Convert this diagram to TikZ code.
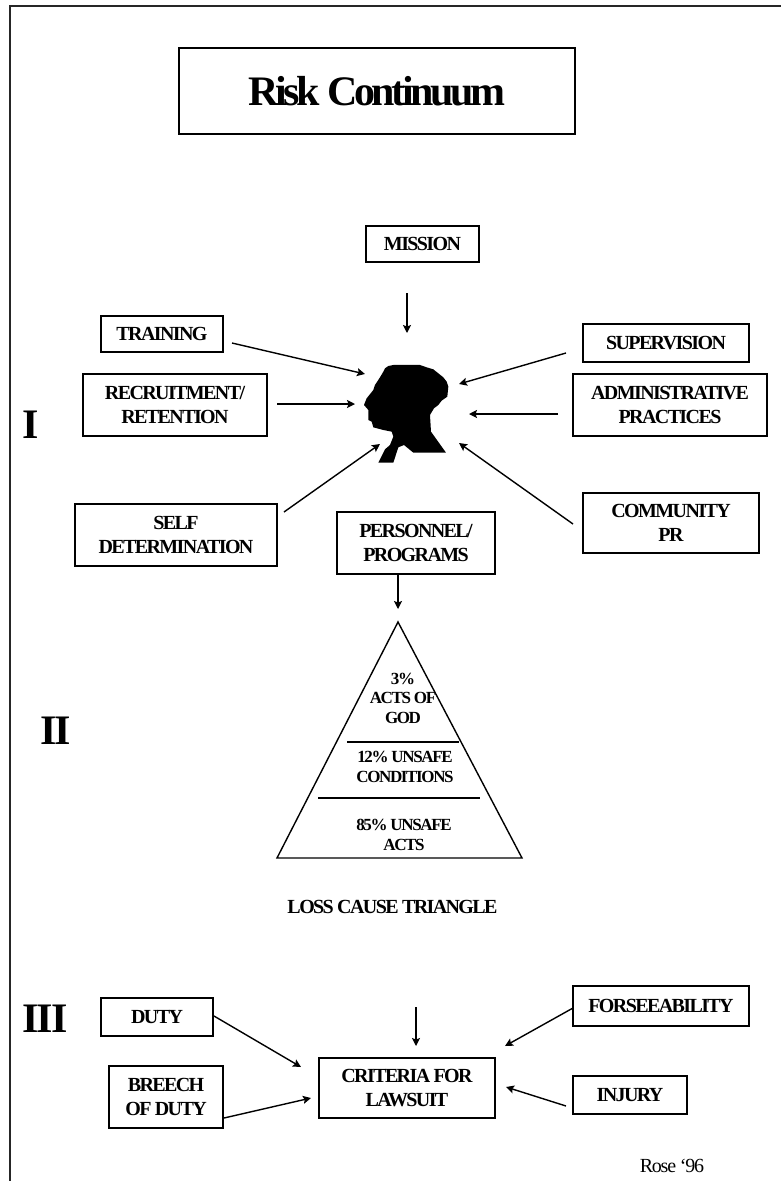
\documentclass[tikz,border=0pt]{standalone}
\usepackage{fontspec}
\setmainfont{Liberation Serif}[LetterSpace=-8]
\newfontfamily\rosefont{Liberation Serif}[LetterSpace=-6]
\newfontfamily\romanfont{Liberation Serif}[LetterSpace=-5]
\usetikzlibrary{arrows.meta}
\tikzset{
  bx/.style={draw,line width=1.6pt,align=center,inner sep=0pt,font=\fontsize{20}{24.5}\selectfont\bfseries},
  lab/.style={align=center,inner sep=0pt,font=\fontsize{17}{19.5}\selectfont\bfseries},
  roman/.style={inner sep=0pt,font=\fontsize{42}{42}\selectfont\romanfont\bfseries},
  arr/.style={line width=1.4pt,-{Stealth[length=8pt,width=8pt,inset=1.5pt]}},
  rule line/.style={line width=1.4pt}
}
\newcommand{\rbox}[6]{\node[bx,minimum width=#4pt-#3pt,minimum height=#6pt-#5pt] (#1) at ({(#3+#4)/2},{(#5+#6)/2}) {#2};}
\begin{document}
\begin{tikzpicture}[x=1pt,y=-1pt]
\useasboundingbox (0,0) rectangle (781,1181);
\draw[line width=1.6pt,black!85] (10,1181) -- (10,6) -- (781,6);
\node[draw,line width=1.6pt,minimum width=396pt,minimum height=86pt,inner sep=0pt,font=\fontsize{42}{45}\selectfont\bfseries] (title) at (377,91) {Risk Continuum};
\rbox{mission}{MISSION}{366}{479}{226}{262}
\rbox{training}{TRAINING}{101}{223}{316}{352}
\rbox{recruit}{RECRUITMENT/\\RETENTION}{83}{267}{374}{436}
\rbox{self}{SELF\\DETERMINATION}{75}{277}{504}{566}
\rbox{personnel}{PERSONNEL/\\PROGRAMS}{337}{495}{512}{574}
\rbox{super}{SUPERVISION}{583}{749}{324}{362}
\rbox{admin}{ADMINISTRATIVE\\PRACTICES}{573}{767}{374}{436}
\rbox{community}{COMMUNITY\\PR}{583}{759}{493}{553}
\rbox{duty}{DUTY}{101}{213}{998}{1036}
\rbox{breech}{BREECH\\OF DUTY}{109}{223}{1066}{1128}
\rbox{criteria}{CRITERIA FOR\\LAWSUIT}{319}{495}{1058}{1118}
\rbox{injury}{INJURY}{573}{687}{1076}{1114}
\rbox{forsee}{FORSEEABILITY}{573}{749}{986}{1026}
% head silhouette
\fill[shift={(330,290)},x=0.3333pt,y=-0.3333pt] (165,235)--(175,228)--(190,225)--(270,225)--(290,232)--(310,238)--(325,250)--(340,262)--(350,275)--(355,290)--(352,320)--(335,332)--(325,345)--(312,355)--(300,375)--(303,425)--(348,488)--(250,488)--(222,465)--(205,472)--(190,518)--(145,518)--(165,478)--(180,465)--(190,440)--(185,425)--(160,420)--(130,412)--(125,395)--(115,390)--(115,360)--(102,345)--(110,325)--(130,300)--(135,285)--(150,262)--(160,245)--cycle;
% connector ends
\coordinate (tm) at (407,293); \coordinate (hm) at (407,333);
\coordinate (ttr) at (232,343); \coordinate (htr) at (365,374);
\coordinate (tre) at (277,404); \coordinate (hre) at (355,404);
\coordinate (tse) at (284,512); \coordinate (hse) at (380,444);
\coordinate (tsu) at (566,353); \coordinate (hsu) at (459,384);
\coordinate (tad) at (558,414); \coordinate (had) at (469,414);
\coordinate (tco) at (573,524); \coordinate (hco) at (459,443);
\coordinate (hpe) at (398,609);
\coordinate (apex) at (398,622);
\coordinate (bl) at (277,858);
\coordinate (br) at (522,858);
\coordinate (tcr) at (416,1007); \coordinate (hcr) at (416,1046);
\coordinate (tdu) at (214,1016); \coordinate (hdu) at (301,1067);
\coordinate (tbr) at (224,1118); \coordinate (hbr) at (311,1098);
\coordinate (tfo) at (573,1008); \coordinate (hfo) at (505,1046);
\coordinate (tin) at (566,1106); \coordinate (hin) at (506,1087);
\draw[arr] (tm) -- (hm);
\draw[arr] (ttr) -- (htr);
\draw[arr] (tre) -- (hre);
\draw[arr] (tse) -- (hse);
\draw[arr] (tsu) -- (hsu);
\draw[arr] (tad) -- (had);
\draw[arr] (tco) -- (hco);
\draw[arr] (personnel.south -| hpe) -- (hpe);
\draw[arr] (tcr) -- (hcr);
\draw[arr] (tdu) -- (hdu);
\draw[arr] (tbr) -- (hbr);
\draw[arr] (tfo) -- (hfo);
\draw[arr] (tin) -- (hin);
% triangle
\draw[line width=1.4pt] (apex) -- (br) -- (bl) -- cycle;
\draw[rule line] (347,742) -- (459,742);
\draw[rule line] (318,798) -- (480,798);
\node[lab] (t1) at (403,698) {3\%\\ACTS OF\\GOD};
\node[lab] (t2) at (405,767) {12\% UNSAFE\\CONDITIONS};
\node[lab] (t3) at (404,835) {85\% UNSAFE\\ACTS};
\node[inner sep=0pt,font=\fontsize{20}{24}\selectfont\bfseries] (lct) at (392.5,907) {LOSS CAUSE TRIANGLE};
\node[roman] (r1) at (30.5,424.5) {I};
\node[roman] (r2) at (55.5,731) {II};
\node[roman] (r3) at (45,1019) {III};
\node[inner sep=0pt,font=\fontsize{20}{24}\selectfont\rosefont] (rose) at (672,1166) {Rose ‘96};
\end{tikzpicture}
\end{document}
